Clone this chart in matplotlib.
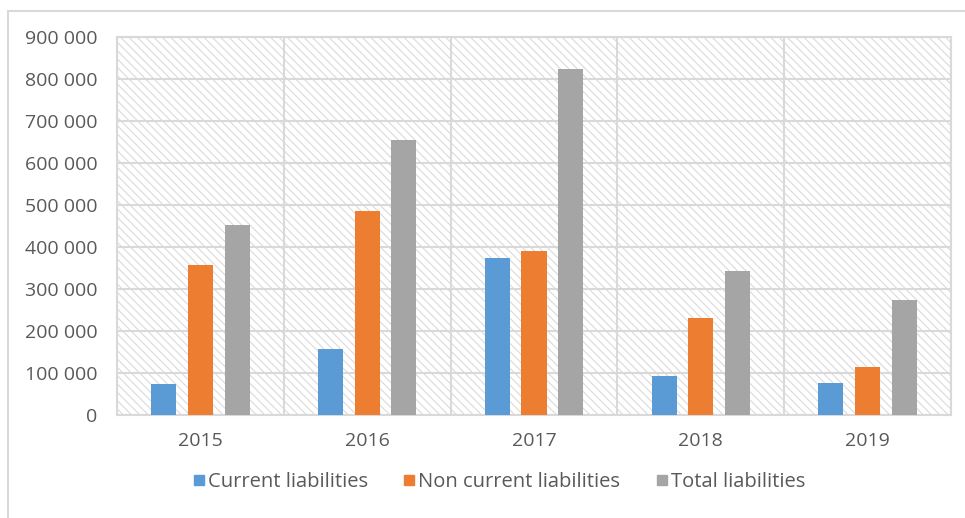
import matplotlib
matplotlib.use("Agg")
import matplotlib.pyplot as plt
from matplotlib.patches import Rectangle
from matplotlib.lines import Line2D
from matplotlib.ticker import FuncFormatter, FixedLocator
import numpy as np

years = ["2015", "2016", "2017", "2018", "2019"]
current_liabilities = [74000, 156000, 373000, 93000, 77000]
non_current_liabilities = [357000, 485000, 391000, 231000, 114000]
total_liabilities = [452000, 655000, 823000, 343000, 274000]
series_names = ["Current liabilities", "Non current liabilities", "Total liabilities"]
colors = ["#5B9BD5", "#ED7D31", "#A5A5A5"]

TEXT = "#595959"
GRID = "#D9D9D9"

plt.rcParams["font.family"] = ["Open Sans", "DejaVu Sans"]
plt.rcParams["hatch.linewidth"] = 0.8

W, H = 965, 518
fig = plt.figure(figsize=(W / 100, H / 100), dpi=100)
fig.patch.set_facecolor("white")

# outer chart frame
fig.patches.append(Rectangle((8 / W, -0.1), 1.2, 1.1 - 11 / H,
                             transform=fig.transFigure, fill=False,
                             edgecolor=GRID, linewidth=1.5, zorder=0))

ax = fig.add_axes([117 / W, 1 - 415 / H, (951 - 117) / W, (415 - 37) / H])
ax.set_facecolor("white")

# hatched plot area background
ax.add_patch(Rectangle((0, 0), 1, 1, transform=ax.transAxes,
                       facecolor="white", edgecolor="#DADADA",
                       hatch="\\\\\\\\", linewidth=0, zorder=0.1))

x = np.arange(len(years))
width = 0.15
offsets = [-0.22, 0.0, 0.22]
for vals, off, c, name in zip([current_liabilities, non_current_liabilities, total_liabilities],
                              offsets, colors, series_names):
    ax.bar(x + off, vals, width=width, color=c, zorder=3, label=name)

ax.set_xlim(-0.5, len(years) - 0.5)
ax.set_ylim(0, 900000)
ax.set_yticks(np.arange(0, 900001, 100000))
ax.yaxis.set_major_formatter(FuncFormatter(lambda v, p: f"{int(v):,}".replace(",", " ")))
ax.set_xticks(x)
ax.set_xticklabels(years)
ax.xaxis.set_minor_locator(FixedLocator(np.arange(-0.5, len(years), 1.0)))

ax.set_axisbelow(True)
ax.grid(axis="y", which="major", color=GRID, linewidth=1.5, zorder=0.5)
ax.grid(axis="x", which="minor", color=GRID, linewidth=1.5, zorder=0.5)
ax.grid(axis="x", which="major", visible=False)

ax.tick_params(axis="both", which="both", length=0, labelsize=14, labelcolor=TEXT)
ax.tick_params(axis="y", pad=14)
ax.tick_params(axis="x", pad=12)

for s in ax.spines.values():
    s.set_color(GRID)
    s.set_linewidth(1.5)

handles = [Line2D([0], [0], marker="s", linestyle="none", markersize=7.5,
                  markerfacecolor=c, markeredgecolor=c) for c in colors]
fig.legend(handles, series_names, loc="center", bbox_to_anchor=(499 / W, 1 - 482 / H),
           ncol=3, frameon=False, fontsize=14.5, labelcolor=TEXT,
           handletextpad=0.15, columnspacing=1.75, handlelength=0.6)

fig.savefig("out.png", dpi=100, facecolor="white")
